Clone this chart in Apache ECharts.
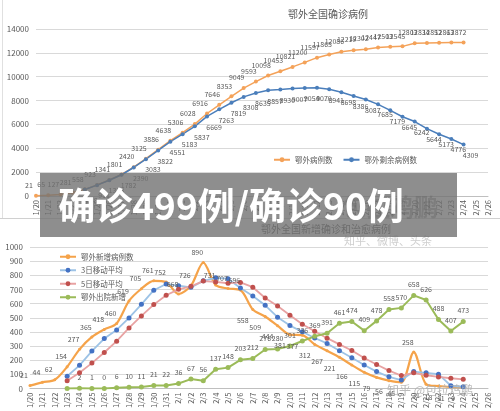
<!DOCTYPE html>
<html>
<head>
<meta charset="utf-8">
<script src="https://cdn.jsdelivr.net/npm/echarts@6/dist/echarts.min.js"></script>
<style>
html,body{margin:0;padding:0;background:#fff}
#main{width:500px;height:411px}
</style>
</head>
<body>
<div id="main"></div>
<script>
// 日期
const days = ['1/20','1/21','1/22','1/23','1/24','1/25','1/26','1/27','1/28','1/29','1/30','1/31',
  '2/1','2/2','2/3','2/4','2/5','2/6','2/7','2/8','2/9','2/10','2/11','2/12','2/13','2/14','2/15',
  '2/16','2/17','2/18','2/19','2/20','2/21','2/22','2/23','2/24','2/25','2/26'];

// 上图：鄂外累计 / 剩余
const totalCases = [21,65,127,281,558,923,1341,1801,2420,3125,3886,4638,5306,6028,6916,7646,8353,9049,9593,10098,
  10453,10821,11200,11597,11865,12086,12219,12302,12447,12503,12545,12803,12834,12852,12863,12872];
const activeCases = [null,null,null,null,548,911,1318,1782,2390,3083,3822,4551,5183,5837,6669,7263,7819,8308,8635,8857,
  8930,9007,9054,9070,8941,8698,8386,8087,7685,7179,6645,6242,5644,5173,4776,4309];

// 下图：新增 / 移动平均 / 出院
const newCases = [21,44,62,154,277,365,418,460,619,705,761,752,668,726,890,731,707,696,558,509,
  444,381,377,312,267,221,166,115,79,56,45,258,31,18,11,9];
const avg3 = [null,null,null,87,164,265,353,414,499,595,695,739,727,715,761,782,776,711,654,588,
  504,445,401,357,319,267,218,167,120,83,60,120,111,102,20,13];
const avg5 = [null,null,null,56,112,180,255,335,428,513,593,659,701,722,759,753,744,750,716,640,
  583,518,454,405,356,312,269,216,170,127,92,111,94,82,73,65];
const recovered = [null,null,null,0,2,1,0,6,10,11,21,22,36,67,56,137,148,203,212,276,
  280,301,336,369,391,461,474,409,478,558,570,658,626,488,407,473];

const grey = '#595959';
const gridColor = '#d9d9d9';
const cjk = '"Noto Sans CJK SC", "Noto Sans", sans-serif';

const myChart = echarts.init(document.getElementById('main'));

// 新增病例标签：后半段放在线下方
const newCasesData = newCases.map((v, i) => {
  if (i >= 18 && i !== 31) {
    return { value: v, label: { position: 'bottom', offset: [-10, 1] } };
  }
  return v;
});
const recoveredData = recovered.map((v, i) => (i === 3 ? { value: v, label: { show: false } } : v));

const xAxisBase = {
  type: 'category',
  data: days,
  boundaryGap: false,
  axisLine: { lineStyle: { color: '#bfbfbf' } },
  axisTick: { show: false },
  axisLabel: { rotate: 90, fontSize: 7.5, color: grey, margin: 4, interval: 0 }
};

const plainNum = (v) => String(v);

const option = {
  animation: false,
  textStyle: { fontFamily: cjk },
  grid: [
    { left: 36, right: 12, top: 29, height: 167 },
    { left: 30, right: 12, top: 247, height: 142 }
  ],
  xAxis: [
    Object.assign({ gridIndex: 0 }, xAxisBase),
    Object.assign({ gridIndex: 1 }, xAxisBase)
  ],
  yAxis: [
    {
      gridIndex: 0, type: 'value', min: 0, max: 14000, interval: 2000,
      axisLine: { show: false }, axisTick: { show: false },
      axisLabel: { fontSize: 8, color: grey, margin: 7, formatter: plainNum },
      splitLine: { lineStyle: { color: gridColor } }
    },
    {
      gridIndex: 1, type: 'value', min: 0, max: 1000, interval: 100,
      axisLine: { show: false }, axisTick: { show: false },
      axisLabel: { fontSize: 8, color: grey, margin: 7, formatter: plainNum },
      splitLine: { lineStyle: { color: gridColor } }
    }
  ],
  legend: [
    {
      data: ['鄂外病例数', '鄂外剩余病例数'],
      left: 268, top: 151, itemWidth: 16, itemHeight: 6, itemGap: 10,
      textStyle: { fontSize: 7.5, color: grey }
    },
    {
      data: ['鄂外新增病例数', '3日移动平均', '5日移动平均', '鄂外出院新增'],
      orient: 'vertical', left: 54, top: 248, itemWidth: 16, itemHeight: 6, itemGap: 6,
      textStyle: { fontSize: 7.5, color: grey }
    }
  ],
  series: [
    {
      name: '鄂外病例数', type: 'line', xAxisIndex: 0, yAxisIndex: 0, data: totalCases,
      symbol: 'circle', symbolSize: 4,
      lineStyle: { color: '#F4A259', width: 1.5 }, itemStyle: { color: '#F4A259' },
      label: { show: true, position: 'top', offset: [-7, 0], fontSize: 7, color: grey }
    },
    {
      name: '鄂外剩余病例数', type: 'line', xAxisIndex: 0, yAxisIndex: 0, data: activeCases,
      symbol: 'circle', symbolSize: 4,
      lineStyle: { color: '#4A7EBB', width: 1.5 }, itemStyle: { color: '#4A7EBB' },
      label: { show: true, position: 'bottom', offset: [7, 0], fontSize: 7, color: grey }
    },
    {
      name: '鄂外新增病例数', type: 'line', xAxisIndex: 1, yAxisIndex: 1, data: newCasesData,
      smooth: 0.3, symbol: 'circle', symbolSize: 3,
      lineStyle: { color: '#F5A34A', width: 2.2 }, itemStyle: { color: '#F5A34A' },
      label: { show: true, position: 'top', offset: [-6, 0], fontSize: 7, color: grey }
    },
    {
      name: '3日移动平均', type: 'line', xAxisIndex: 1, yAxisIndex: 1, data: avg3,
      symbol: 'circle', symbolSize: 5,
      lineStyle: { color: '#9DC3E6', width: 1.8 }, itemStyle: { color: '#4472C4' }
    },
    {
      name: '5日移动平均', type: 'line', xAxisIndex: 1, yAxisIndex: 1, data: avg5,
      symbol: 'circle', symbolSize: 5,
      lineStyle: { color: '#E8A3A3', width: 1.8 }, itemStyle: { color: '#C0504D' }
    },
    {
      name: '鄂外出院新增', type: 'line', xAxisIndex: 1, yAxisIndex: 1, data: recoveredData,
      symbol: 'circle', symbolSize: 5,
      lineStyle: { color: '#9BBB59', width: 2 }, itemStyle: { color: '#9BBB59' },
      label: { show: true, position: 'top', fontSize: 7, color: grey }
    }
  ],
  graphic: [
    { type: 'line', shape: { x1: 0, y1: 218.5, x2: 500, y2: 218.5 }, style: { stroke: '#d0d0d0', lineWidth: 1 }, z: 1 },
    { type: 'line', shape: { x1: 2.5, y1: 0, x2: 2.5, y2: 218 }, style: { stroke: '#e0e0e0', lineWidth: 1 }, z: 1 },
    { type: 'text', x: 328, y: 14, z: 5,
      style: { text: '鄂外全国确诊病例', fill: grey, font: '10px ' + cjk, textAlign: 'center', textVerticalAlign: 'middle' } },
    { type: 'text', x: 326, y: 229, z: 5,
      style: { text: '鄂外全国新增确诊和治愈病例', fill: grey, font: '10px ' + cjk, textAlign: 'center', textVerticalAlign: 'middle' } },
    { type: 'text', x: 390, y: 207, z: 6,
      style: { text: '包拉鸡鹏', fill: 'rgba(70,70,70,0.45)', font: 'bold 24px ' + cjk, textAlign: 'center', textVerticalAlign: 'middle' } },
    { type: 'text', x: 388, y: 241, z: 6,
      style: { text: '知乎、微博、头条', fill: '#cfcfcf', font: '11px ' + cjk, textAlign: 'center', textVerticalAlign: 'middle' } },
    { type: 'text', x: 430, y: 390, z: 50,
      style: { text: '知乎 @包拉鸡鹏', fill: 'rgba(175,175,175,0.85)', font: '12px ' + cjk, textAlign: 'center', textVerticalAlign: 'middle' } },
    { type: 'rect', shape: { x: 40, y: 173, width: 417, height: 64 }, z: 100,
      style: { fill: 'rgba(114,114,114,0.8)' } },
    { type: 'text', x: 231, y: 206, z: 101,
      style: { text: '确诊499例/确诊90例', fill: '#ffffff', font: 'bold 37px ' + cjk, textAlign: 'center', textVerticalAlign: 'middle' } }
  ]
};

myChart.setOption(option);
</script>
</body>
</html>
